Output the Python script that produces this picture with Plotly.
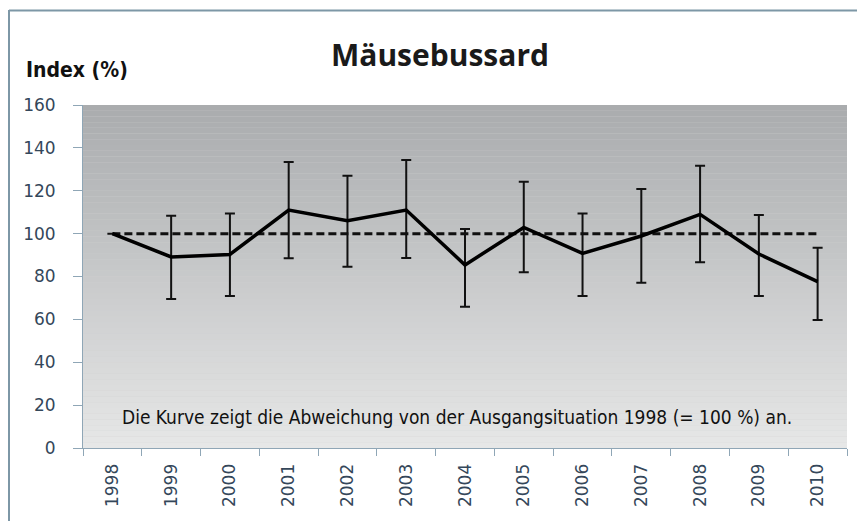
import plotly.graph_objects as go

years = ["1998", "1999", "2000", "2001", "2002", "2003", "2004",
         "2005", "2006", "2007", "2008", "2009", "2010"]
index_vals = [100, 89.1, 90.3, 111, 106, 111, 85.4, 102.9, 90.8, 98.9, 109, 90.5, 77.6]
err_upper = [100, 108.3, 109.4, 133.4, 127, 134.3, 102.1, 124.2, 109.4, 120.8, 131.7, 108.7, 93.4]
err_lower = [100, 69.5, 70.9, 88.5, 84.6, 88.6, 65.9, 82, 70.9, 77.1, 86.6, 70.9, 59.7]
baseline = [100] * len(years)
y_ticks = [0, 20, 40, 60, 80, 100, 120, 140, 160]

plus = [u - v for u, v in zip(err_upper, index_vals)]
minus = [v - l for v, l in zip(index_vals, err_lower)]

fig = go.Figure()

fig.add_trace(go.Scatter(
    x=years, y=baseline, mode="lines",
    line=dict(color="#111111", width=3, dash="8px,4px"),
    hoverinfo="skip", showlegend=False))

fig.add_trace(go.Scatter(
    x=years, y=index_vals, mode="lines",
    line=dict(color="#000000", width=3.5),
    error_y=dict(type="data", symmetric=False, array=plus, arrayminus=minus,
                 color="#111111", thickness=2, width=5, visible=True),
    showlegend=False))

# gradient background of plot area
shapes = []
n = 60
top = (0xaa, 0xac, 0xae)
bot = (0xe6, 0xe7, 0xe7)
for i in range(n):
    t = i / (n - 1)
    c = tuple(int(round(top[k] + (bot[k] - top[k]) * t)) for k in range(3))
    shapes.append(dict(type="rect", xref="x domain", yref="y domain",
                       x0=0, x1=1, y0=1 - (i + 1) / n, y1=1 - i / n,
                       fillcolor="rgb(%d,%d,%d)" % c, line=dict(width=0),
                       layer="below"))

# page has an 8px body margin; figure sized so it fits the 865x521 window
W, H = 857, 513
L, R, T, B = 75, 18, 97, 73
PL, PT = 83, 105          # absolute screen position of plot area (left, top)
pw, ph = W - L - R, H - T - B
def px(x):
    return (x - PL) / pw
def py(y):
    return (PT + ph - y) / ph

border = "#7d97a6"
shapes.append(dict(type="line", xref="paper", yref="paper",
                   x0=px(9), x1=px(863), y0=py(10.5), y1=py(10.5),
                   line=dict(color=border, width=2)))
shapes.append(dict(type="line", xref="paper", yref="paper",
                   x0=px(9), x1=px(9), y0=py(10), y1=py(530),
                   line=dict(color=border, width=2)))
shapes.append(dict(type="line", xref="paper", yref="paper",
                   x0=px(862), x1=px(862), y0=py(10), y1=py(530),
                   line=dict(color="#d8dde2", width=1)))

narrow = "Liberation Sans Narrow, DejaVu Sans Condensed, Roboto, sans-serif"

fig.update_layout(
    width=W, height=H,
    margin=dict(l=L, r=R, t=T, b=B, autoexpand=False),
    paper_bgcolor="white",
    plot_bgcolor="#d0d0d0",
    shapes=shapes,
    showlegend=False,
    annotations=[
        dict(text="<b>Mäusebussard</b>", xref="paper", yref="paper",
             x=px(440), y=py(54), xanchor="center", yanchor="middle",
             showarrow=False, font=dict(family="Open Sans", size=30, color="#1a1a1a")),
        dict(text="<b>Index (%)</b>", xref="paper", yref="paper",
             x=px(24), y=py(70), xanchor="left", yanchor="middle",
             showarrow=False,
             font=dict(family=narrow, size=21, color="#111111")),
        dict(text="Die Kurve zeigt die Abweichung von der Ausgangsituation 1998 (= 100 %) an.",
             xref="paper", yref="paper", x=px(457), y=py(417),
             xanchor="center", yanchor="middle", showarrow=False,
             font=dict(family=narrow, size=19, color="#111111")),
    ],
    xaxis=dict(
        type="category", tickangle=-90, tickson="boundaries",
        ticks="outside", ticklen=7, tickcolor="#8fa6b6", tickwidth=1,
        ticklabelstandoff=8,
        showline=True, linecolor="#8fa6b6", linewidth=1,
        showgrid=False, zeroline=False,
        tickfont=dict(family="DejaVu Sans", size=17, color="#34475a"),
        range=[-0.5, len(years) - 0.5]),
    yaxis=dict(
        range=[0, 160], tickvals=y_ticks,
        ticks="outside", ticklen=9, tickcolor="#8fa6b6", tickwidth=1,
        ticklabelstandoff=14,
        showline=True, linecolor="#8fa6b6", linewidth=1,
        showgrid=False, zeroline=False,
        tickfont=dict(family="DejaVu Sans", size=17, color="#34475a")),
)

fig.write_html("out.html")
